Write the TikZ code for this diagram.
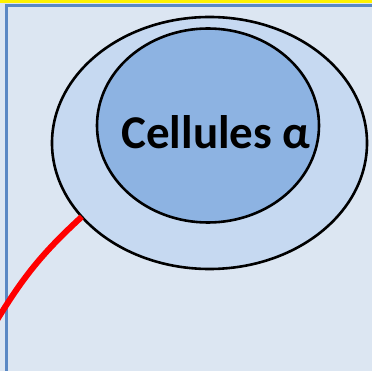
\documentclass[tikz,border=0pt]{standalone}
\usepackage{fontspec}
\setmainfont{Carlito}
\usetikzlibrary{shapes.geometric}
\definecolor{bgblue}{HTML}{DCE6F2}
\definecolor{outerblue}{HTML}{C6D9F1}
\definecolor{innerblue}{HTML}{8DB3E2}
\definecolor{frameblue}{HTML}{5A88C4}

\begin{document}
\begin{tikzpicture}[
  x=1pt, y=-1pt,
  every node/.style={inner sep=0pt, outer sep=0pt},
  cellbox/.style={ellipse, draw=black, line width=2.6pt},
  redline/.style={draw=red, line width=6pt}
]
\useasboundingbox (0,0) rectangle (372,371);
\fill[bgblue] (0,0) rectangle (372,371);
\fill[yellow] (0,0) rectangle (372,3);
\draw[frameblue, line width=3pt] (6,372) -- (6,5.5) -- (373,5.5);
\node[cellbox, fill=outerblue, minimum width=315pt, minimum height=252pt] (ilot) at (209.5,143) {};
\node[cellbox, fill=innerblue, minimum width=222pt, minimum height=194pt] (alpha) at (208,125.5) {};
\node[font=\fontsize{47}{47}\selectfont\bfseries] (label) at (216,132) {Cellules α};
\coordinate (redend) at (-3,320);
\draw[redline] (ilot.210) to[bend right=8] (redend);
\end{tikzpicture}
\end{document}
